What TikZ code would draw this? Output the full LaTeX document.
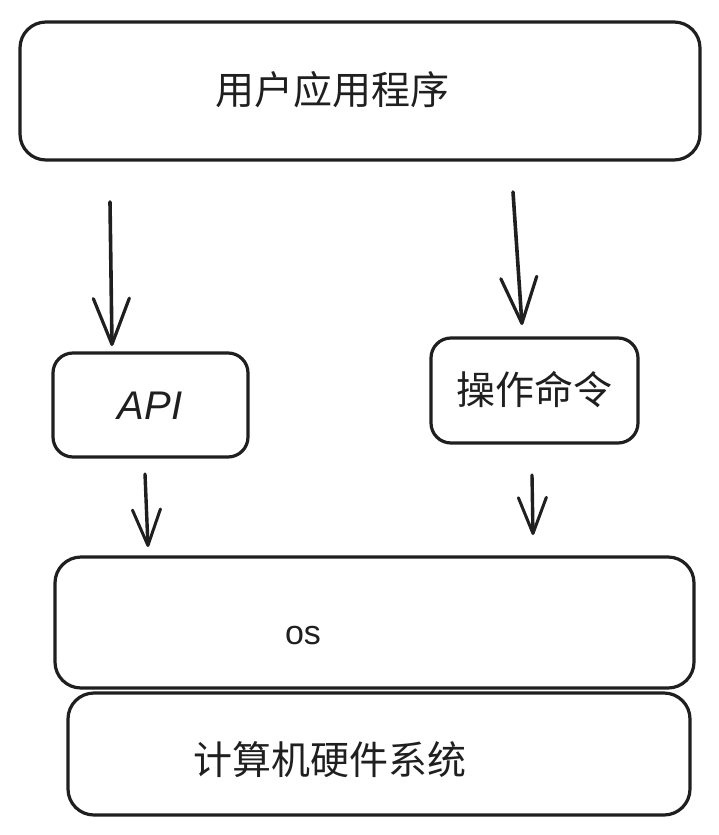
\documentclass[tikz,border=0pt]{standalone}
\usepackage{fontspec}
\setmainfont{Liberation Sans}
\newfontfamily\cjk{Noto Sans CJK SC}
\usetikzlibrary{arrows.meta}
\begin{document}
\begin{tikzpicture}[x=1pt,y=-1pt,
  layer/.style={draw=black!88,line width=3.2pt,rounded corners=26pt},
  smallbox/.style={draw=black!88,line width=3.2pt,rounded corners=20pt},
  zh/.style={font=\cjk\fontsize{39}{46}\selectfont,text=black!88},
  flow/.style={draw=black!88,line width=3.6pt,line cap=round,
    -{Straight Barb[length=46pt,width=36pt,line width=3.2pt,round]}},
  flowshort/.style={draw=black!88,line width=3.4pt,line cap=round,
    -{Straight Barb[length=36pt,width=28pt,line width=3pt,round]}}]
\useasboundingbox (0,0) rectangle (719,835);
% boxes
\draw[layer] (20,22) rectangle (700,160);
\draw[smallbox] (53,353) rectangle (248,457);
\draw[smallbox] (431,338) rectangle (638,443);
\draw[layer] (55,557) rectangle (694,688);
\draw[layer] (68,693) rectangle (690,815);
% labels
\node[zh] (app) at (332,90) {用户应用程序};
\node[font=\itshape\fontsize{40}{46}\selectfont,text=black!88] (api) at (150,406) {API};
\node[zh] (cmd) at (534,390) {操作命令};
\node[font=\fontsize{34}{40}\selectfont,text=black!88] (os) at (303,636) {os};
\node[zh] (hw) at (330,760) {计算机硬件系统};
% anchor points of the connectors
\coordinate (a1) at (110,202);
\coordinate (a2) at (112,346);
\coordinate (b1) at (513,192);
\coordinate (b2) at (522,325);
\coordinate (c1) at (145,474);
\coordinate (c2) at (148,547);
\coordinate (d1) at (532,475);
\coordinate (d2) at (533,535);
% connectors
\draw[flow] (a1) -- (a2);
\draw[flow] (b1) -- (b2);
\draw[flowshort] (c1) -- (c2);
\draw[flowshort] (d1) -- (d2);
\end{tikzpicture}
\end{document}
